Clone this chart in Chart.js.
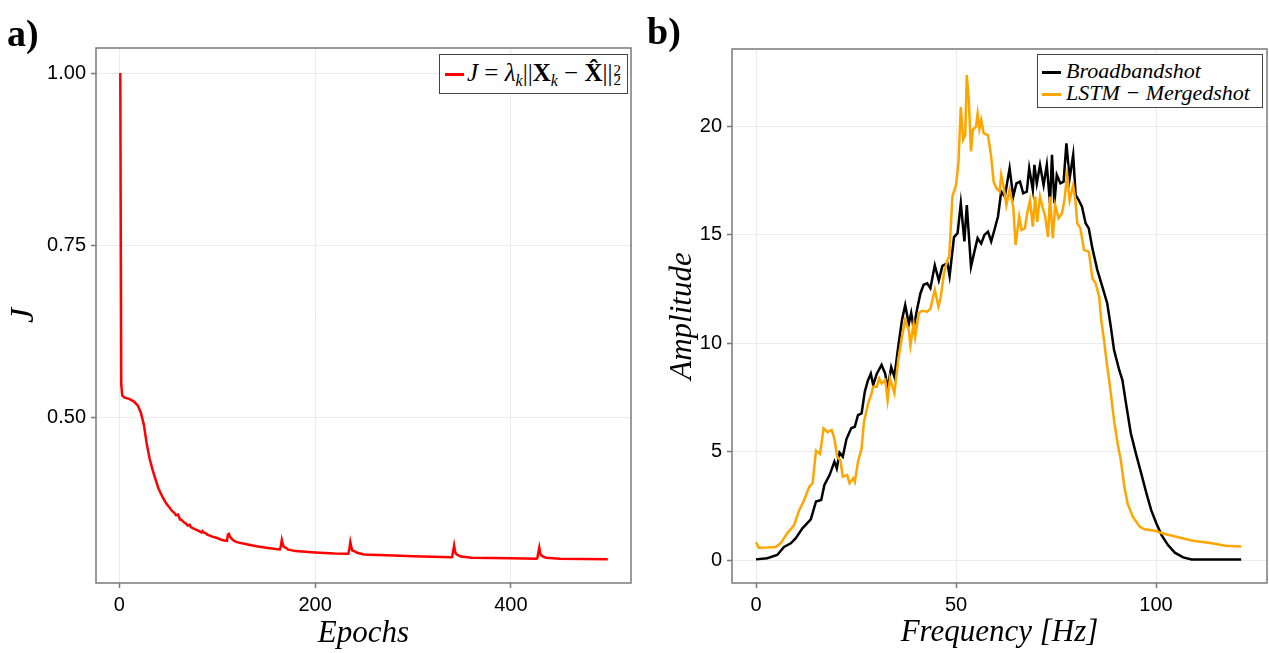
<!DOCTYPE html>
<html><head><meta charset="utf-8">
<script src="https://cdn.jsdelivr.net/npm/chart.js@4.4.1/dist/chart.umd.min.js"></script>
<style>
html,body{margin:0;padding:0;background:#fff;}
#wrap{position:relative;width:1269px;height:653px;overflow:hidden;background:#fff;}
canvas{position:absolute;top:0;}
#ca{left:0;} #cb{left:640px;}
.panel{position:absolute;font-family:'Liberation Serif',serif;font-weight:bold;font-size:38px;line-height:38px;color:#000;}
.legend{position:absolute;border:1px solid #444;background:#fff;font-family:'Liberation Serif',serif;font-style:italic;font-size:22px;color:#000;box-sizing:border-box;}
.row{position:absolute;left:0;height:22px;line-height:22px;white-space:nowrap;}
.sw{position:absolute;height:3px;width:19px;}
.txt{position:absolute;top:0;}
.m{font-size:25px;}
.m b{font-style:normal;font-weight:bold;}
.m .up{font-style:normal;}
.ss{display:inline-block;vertical-align:middle;line-height:10px;font-size:15px;font-style:normal;text-align:left;margin-left:1px;}
.sub{font-size:16px;vertical-align:-5px;}
</style>
</head><body>
<div id="wrap">
<canvas id="ca" width="640" height="653"></canvas>
<canvas id="cb" width="629" height="653"></canvas>
<div class="panel" style="left:7px;top:14px;">a)</div>
<div class="panel" style="left:647px;top:12px;">b)</div>
<div class="legend" style="left:439px;top:54px;width:189px;height:40px;">
  <div class="row" style="top:7px;width:189px;">
    <div class="sw" style="left:5px;top:11px;background:#ff0000;"></div>
    <div class="txt m" style="left:27px;"><i>J</i><span class="up"> = </span><i>λ</i><span class="sub"><i>k</i></span><span class="up">||</span><b>X</b><span class="sub"><i>k</i></span><span class="up"> − </span><b>X̂</b><span class="up">||</span><span class="ss">2<br>2</span></div>
  </div>
</div>
<div class="legend" style="left:1037px;top:54px;width:226px;height:54px;">
  <div class="row" style="top:5px;">
    <div class="sw" style="left:4px;top:11px;background:#000;"></div>
    <div class="txt" style="left:28px;">Broadbandshot</div>
  </div>
  <div class="row" style="top:27px;">
    <div class="sw" style="left:4px;top:11px;background:#ffa500;"></div>
    <div class="txt" style="left:28px;">LSTM − Mergedshot</div>
  </div>
</div>
</div>
<script>
// ---------- Panel a data ----------
const epochs = [1, 2, 3, 5, 10, 15, 19, 22, 25, 28, 31, 34, 37, 40, 44, 48, 52, 54, 56, 58, 60, 62, 63, 66, 68, 70, 72, 73, 77, 80, 84, 85, 86, 88, 90, 95, 100, 105, 109, 110, 111, 112, 113, 116, 120, 130, 140, 150, 160, 164, 165, 166, 167, 168, 170, 172, 180, 200, 220, 233, 234, 235, 236, 237, 238, 240, 243, 250, 280, 300, 320, 339, 340, 341, 342, 343, 344, 346, 349, 360, 400, 426, 427, 428, 429, 430, 431, 433, 436, 450, 499];
const lossJ = [1.0, 0.548, 0.532, 0.529, 0.527, 0.523, 0.517, 0.507, 0.490, 0.462, 0.440, 0.424, 0.410, 0.397, 0.385, 0.375, 0.368, 0.364, 0.362, 0.358, 0.359, 0.352, 0.352, 0.348, 0.346, 0.343, 0.344, 0.341, 0.338, 0.336, 0.333, 0.335, 0.333, 0.332, 0.330, 0.327, 0.325, 0.322, 0.321, 0.322, 0.330, 0.331, 0.327, 0.322, 0.319, 0.316, 0.313, 0.311, 0.309, 0.3085, 0.313, 0.322, 0.316, 0.312, 0.311, 0.3085, 0.306, 0.304, 0.3025, 0.302, 0.302, 0.309, 0.319, 0.312, 0.307, 0.306, 0.3035, 0.301, 0.2995, 0.2985, 0.2978, 0.297, 0.2975, 0.306, 0.314, 0.305, 0.302, 0.300, 0.298, 0.2965, 0.2955, 0.295, 0.2955, 0.304, 0.311, 0.302, 0.300, 0.298, 0.2965, 0.295, 0.294];
const xTicksA = [0, 200, 400];
const yTicksA = [0.50, 0.75, 1.00];

// ---------- Panel b data ----------
const bbFreq = [0, 2.8, 5.3, 7, 8.7, 9.9, 11.6, 13.7, 15, 16.3, 17.1, 18.4, 19.6, 20.2, 20.9, 21.7, 22.6, 23.8, 24.7, 25.5, 26.4, 27.2, 28, 28.7, 29.3, 30.2, 31.4, 32.3, 32.9, 33.8, 34.6, 35.6, 36.5, 37.3, 38.2, 38.8, 39.4, 40.3, 41.1, 41.9, 42.8, 43.6, 44.7, 45.7, 46.6, 47.85, 48.4, 49.5, 50.4, 51.2, 52.1, 52.7, 53.75, 54.6, 55.4, 56.3, 57.1, 58, 58.8, 59.6, 60.5, 61.3, 62.2, 63.4, 64.3, 65.1, 66, 66.8, 67.7, 68.3, 69.2, 69.6, 70.2, 71, 71.9, 72.7, 73.5, 74, 74.6, 75.2, 76.1, 76.9, 77.6, 78.4, 79.3, 79.9, 80.7, 81.5, 82.4, 83.2, 84.1, 85.3, 86.6, 87.8, 88.7, 89.5, 90.8, 91.6, 92.5, 93.7, 95, 96.3, 97.6, 98.8, 100.1, 101.4, 103, 104.7, 106.8, 108.9, 121.3];
const bbAmp = [0.03, 0.08, 0.23, 0.6, 0.77, 1.0, 1.46, 1.88, 2.7, 2.77, 3.46, 3.92, 4.54, 4.23, 4.95, 4.77, 5.57, 6.08, 6.15, 6.69, 6.77, 7.77, 8.3, 8.6, 8.08, 8.6, 9.0, 8.6, 7.9, 8.9, 8.46, 9.9, 11.08, 11.77, 10.9, 11.4, 10.7, 11.6, 12.3, 12.7, 12.77, 12.54, 13.6, 12.9, 13.57, 13.7, 13.1, 14.9, 15.08, 16.46, 14.7, 16.38, 13.54, 14.23, 14.85, 14.6, 15.0, 15.15, 14.7, 15.23, 15.85, 17.0, 16.77, 18.08, 16.77, 17.38, 17.46, 16.92, 17.0, 18.08, 17.08, 18.23, 17.38, 18.23, 17.3, 18.23, 16.46, 18.7, 16.46, 17.77, 17.38, 17.46, 19.23, 17.6, 18.7, 16.85, 16.6, 16.3, 15.54, 15.3, 14.38, 13.4, 12.6, 11.85, 10.77, 9.7, 8.77, 8.3, 7.23, 5.85, 4.9, 4.0, 3.08, 2.3, 1.69, 1.15, 0.69, 0.34, 0.12, 0.03, 0.03];
const lstmFreq = [0, 0.7, 2.8, 4.9, 6.15, 7.8, 9.5, 10.8, 12.05, 13.3, 14.15, 15, 16, 16.9, 17.9, 18.9, 19.6, 20.3, 21.1, 21.7, 22.8, 23.4, 24.3, 24.7, 25.5, 26.4, 27.0, 28.05, 28.9, 29.3, 30.2, 30.8, 31.4, 32.3, 32.9, 33.5, 34.6, 35.6, 36.5, 37.3, 38.2, 38.6, 39.4, 39.8, 40.7, 41.5, 42.8, 43.6, 44.7, 45.6, 46.2, 47, 47.85, 48.3, 49.1, 50, 50.6, 51.2, 51.8, 52.3, 52.7, 53.2, 53.75, 54.2, 55, 55.4, 55.85, 56.3, 56.9, 58, 58.8, 59.4, 60.1, 60.9, 61.3, 61.9, 62.6, 63.4, 64.3, 64.9, 65.8, 66.4, 67.2, 67.8, 68.5, 69.2, 69.8, 70.3, 71, 71.7, 72.3, 73, 73.5, 74.2, 74.8, 75.65, 76.5, 77.1, 77.8, 78.4, 79.3, 79.9, 80.3, 81.1, 82, 83.2, 84.1, 84.9, 85.8, 86.3, 87, 87.7, 88.5, 89.1, 89.5, 90.4, 91.2, 92.1, 92.9, 94.2, 95.9, 97.1, 99.7, 102.2, 105.6, 108.9, 114, 117.3, 121.3];
const lstmAmp = [0.82, 0.57, 0.58, 0.6, 0.77, 1.23, 1.6, 2.3, 2.77, 3.38, 3.54, 5.05, 4.9, 6.08, 5.9, 6.0, 5.6, 4.77, 4.6, 3.85, 3.92, 3.54, 3.77, 3.6, 4.54, 5.15, 6.38, 7.23, 7.7, 8.0, 8.0, 8.38, 8.15, 8.3, 7.38, 8.38, 7.7, 9.3, 10.3, 11.08, 10.6, 9.9, 10.9, 10.3, 11.4, 11.5, 11.46, 11.6, 12.46, 11.7, 12.15, 13.23, 13.85, 14.0, 16.77, 17.3, 18.3, 20.9, 19.4, 19.6, 22.38, 21.2, 18.85, 19.85, 20.0, 20.6, 19.9, 20.3, 19.7, 19.6, 18.6, 17.46, 17.15, 17.0, 17.77, 17.23, 16.38, 17.08, 16.3, 14.54, 15.85, 15.23, 15.3, 16.0, 16.6, 15.38, 16.77, 15.6, 16.77, 16.23, 15.85, 14.9, 16.77, 14.85, 16.38, 15.77, 16.0, 16.6, 17.77, 16.6, 17.3, 16.5, 15.54, 15.3, 14.3, 14.23, 13.0, 12.77, 12.15, 11.08, 10.15, 9.08, 8.0, 7.08, 6.46, 5.38, 4.6, 3.38, 2.6, 2.0, 1.54, 1.42, 1.35, 1.2, 1.05, 0.9, 0.77, 0.66, 0.62];
const xTicksB = [0, 50, 100];
const yTicksB = [0, 5, 10, 15, 20];

// ---------- helpers ----------
const SPINE = '#7a7a7a';
const GRID = '#ebebeb';
const tickFont = {family: "'Liberation Sans', Arial, sans-serif", size: 20};
const titleFont = {family: "'Liberation Serif', serif", size: 31, style: 'italic'};
const frame = {
  id: 'frame',
  afterDatasetsDraw(chart) {
    const {ctx, chartArea: a} = chart;
    ctx.save();
    ctx.strokeStyle = SPINE;
    ctx.lineWidth = 1.5;
    ctx.strokeRect(a.left, a.top, a.right - a.left, a.bottom - a.top);
    ctx.restore();
  }
};
function toPts(xs, ys) { return xs.map((x, i) => ({x: x, y: ys[i]})); }
function axis(opts) {
  return {
    type: 'linear', min: opts.min, max: opts.max,
    afterBuildTicks: s => { s.ticks = opts.ticks.map(v => ({value: v})); },
    afterFit: opts.fit,
    border: {display: false},
    grid: {color: GRID, lineWidth: 1, drawTicks: true, tickLength: 5, tickColor: SPINE, tickWidth: 1.5},
    ticks: {color: '#000', font: tickFont, padding: 5, maxRotation: 0, autoSkip: false, callback: opts.fmt},
    title: {display: true, text: opts.title, color: '#000', font: opts.tfont || titleFont, padding: opts.tpad}
  };
}

new Chart(document.getElementById('ca'), {
  type: 'line',
  data: {datasets: [{data: toPts(epochs, lossJ), borderColor: '#ff0000', borderWidth: 2.5, pointRadius: 0, tension: 0, fill: false}]},
  options: {
    responsive: false, animation: false, events: [],
    layout: {padding: {top: 48, right: 9, left: 0, bottom: 0}},
    plugins: {legend: {display: false}, tooltip: {enabled: false}},
    scales: {
      x: axis({min: -23.8, max: 522.7, ticks: xTicksA, fit: s => { s.height = 70; }, fmt: v => String(v), title: 'Epochs', tpad: {top: 0, bottom: 1}}),
      y: axis({min: 0.2597, max: 1.0363, ticks: yTicksA, fit: s => { s.width = 96; }, fmt: v => Number(v).toFixed(2), title: 'J', tpad: {top: 4, bottom: 0}, tfont: {family: "'Liberation Serif', serif", size: 34, style: 'italic'}})
    }
  },
  plugins: [frame]
});

new Chart(document.getElementById('cb'), {
  type: 'line',
  data: {datasets: [
    {data: toPts(lstmFreq, lstmAmp), borderColor: '#ffa500', borderWidth: 2.5, pointRadius: 0, tension: 0, fill: false},
    {data: toPts(bbFreq, bbAmp), borderColor: '#000000', borderWidth: 2.5, pointRadius: 0, tension: 0, fill: false}
  ]},
  options: {
    responsive: false, animation: false, events: [],
    layout: {padding: {top: 49, right: 2, left: 0, bottom: 0}},
    plugins: {legend: {display: false}, tooltip: {enabled: false}},
    scales: {
      x: axis({min: -6, max: 127.75, ticks: xTicksB, fit: s => { s.height = 70; }, fmt: v => String(v), title: 'Frequency [Hz]', tpad: {top: 0, bottom: 2}}),
      y: axis({min: -1.06, max: 23.58, ticks: yTicksB, fit: s => { s.width = 92; }, fmt: v => String(v), title: 'Amplitude', tpad: {top: 24, bottom: 0}})
    }
  },
  plugins: [frame]
});
</script>
</body></html>
